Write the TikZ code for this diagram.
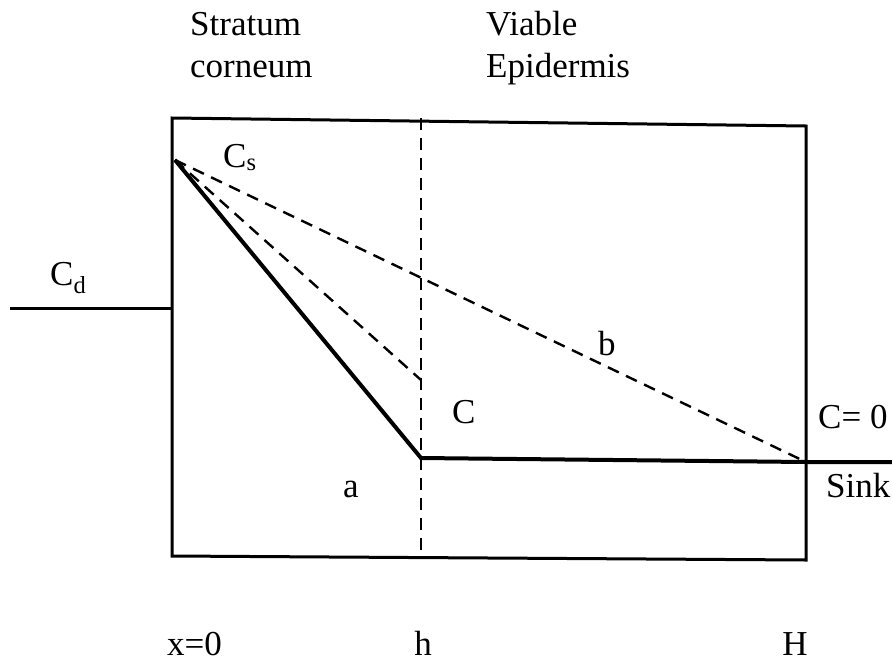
\documentclass[tikz,border=0pt]{standalone}
\usepackage{fontspec}
\setmainfont{Liberation Serif}
\usetikzlibrary{positioning}

\begin{document}
\begin{tikzpicture}[x=1pt,y=-1pt,
 lbl/.style={font=\fontsize{35}{42}\selectfont,inner sep=0pt,anchor=base west},
 wall/.style={line width=3pt,line join=miter},
 profile/.style={line width=4pt},
 dashline/.style={line width=2.4pt,dash pattern=on 12pt off 8pt}]
\useasboundingbox (0,0) rectangle (892,662);
% corners of the membrane
\coordinate (tl) at (172,118);
\coordinate (tr) at (806,126);
\coordinate (br) at (806,560);
\coordinate (bl) at (172,556);
\coordinate (ht) at (421,118);
\coordinate (hb) at (421,556);
% concentration points
\coordinate (cs) at (175,160);
\coordinate (ch) at (421,458);
\coordinate (cm) at (421,380);
\coordinate (sink) at (806,462);
\coordinate (donL) at (10,308);
\coordinate (donR) at (172,308);
\coordinate (sinkR) at (892,462);

\draw[wall] (tl) -- (tr) -- (br) -- (bl) -- cycle;
\draw[dashline,line width=2pt] (ht) -- (hb);
\draw[wall] (donL) -- (donR);
\draw[profile] (cs) -- (ch) -- (sink) -- (sinkR);
\draw[dashline] (cs) -- (cm);
\draw[dashline] (cs) -- (sink);

\node[lbl,align=left] (sc) at (190,77) {Stratum\\corneum};
\node[lbl,align=left] (ve) at (486,77) {Viable\\Epidermis};
\node[lbl] (cd) at (50,285) {C\textsubscript{d}};
\node[lbl] (csl) at (223,167) {C\textsubscript{s}};
\node[lbl] (b) at (598,355) {b};
\node[lbl] (c) at (452,423) {C};
\node[lbl] (c0) at (818,428) {C= 0};
\node[lbl] (snk) at (826,497) {Sink};
\node[lbl] (a) at (343,497) {a};
\node[lbl] (x0) at (167,655) {x=0};
\node[lbl,anchor=base] (h) at (423,655) {h};
\node[lbl,anchor=base] (hh) at (795,655) {H};
\end{tikzpicture}
\end{document}
